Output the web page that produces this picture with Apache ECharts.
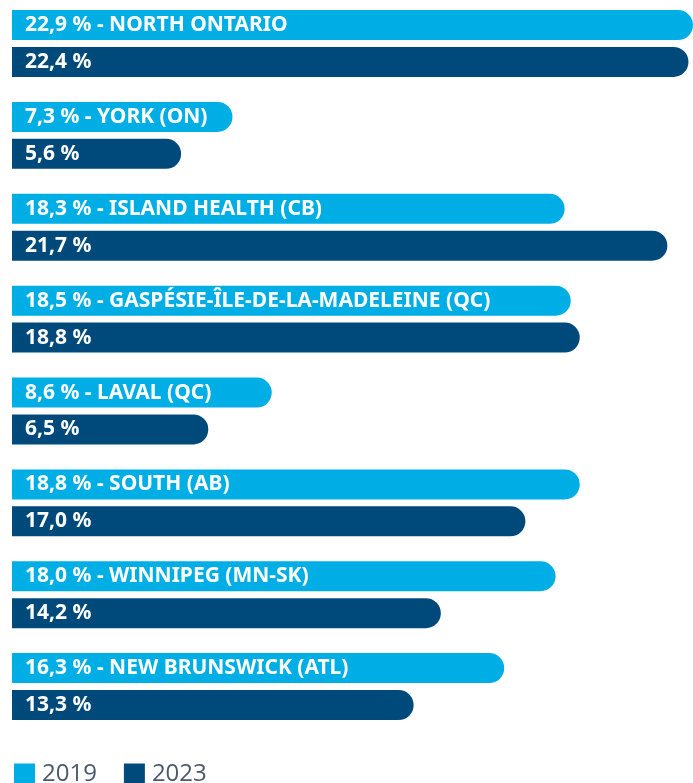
<!DOCTYPE html>
<html>
<head>
<meta charset="utf-8">
<script src="https://cdn.jsdelivr.net/npm/echarts@6/dist/echarts.min.js"></script>
<style>
html,body{margin:0;padding:0;background:#fff;}
#chart{width:693px;height:783px;}
</style>
</head>
<body>
<div id="chart"></div>
<script>
// regions, top to bottom
const regions=['NORTH ONTARIO','YORK (ON)','ISLAND HEALTH (CB)','GASPÉSIE-ÎLE-DE-LA-MADELEINE (QC)','LAVAL (QC)','SOUTH (AB)','WINNIPEG (MN-SK)','NEW BRUNSWICK (ATL)']
const values2019=[22.9,7.3,18.3,18.5,8.6,18.8,18.0,16.3]
const values2023=[22.4,5.6,21.7,18.8,6.5,17.0,14.2,13.3]

const fmt=v=>v.toFixed(1).replace('.',',')+' %'
const labelStyle={
    show:true,
    position:'insideLeft',
    distance:13,
    color:'#fff',
    fontFamily:'Noto Sans',
    fontWeight:'bold',
    fontSize:21
}

let chart=echarts.init(document.getElementById('chart'))
chart.setOption({
    backgroundColor:'#fff',
    animation:false,
    legend:{
        left:9,
        top:757,
        itemWidth:21,
        itemHeight:21,
        itemGap:27,
        icon:'rect',
        textStyle:{color:'#4b5a6b',fontSize:24,fontFamily:'Open Sans',padding:[0,0,0,2]},
        data:['2019','2023']
    },
    grid:{left:12,right:0,top:-2.4,height:734.9,outerBoundsMode:'none'},
    xAxis:{type:'value',min:0,max:22.55,show:false},//about 30.2px per point
    yAxis:{type:'category',data:regions,inverse:true,show:false},
    series:[
        {
            name:'2019',
            type:'bar',
            barWidth:30,
            barGap:'23%',
            data:values2019,
            itemStyle:{color:'#00aee6',borderRadius:[0,15,15,0]},
            label:Object.assign({},labelStyle,{formatter:p=>fmt(p.value)+' - '+p.name})
        },
        {
            name:'2023',
            type:'bar',
            barWidth:30,
            data:values2023,
            itemStyle:{color:'#004a7b',borderRadius:[0,15,15,0]},
            label:Object.assign({},labelStyle,{formatter:p=>fmt(p.value)})
        }
    ]
})
</script>
</body>
</html>
